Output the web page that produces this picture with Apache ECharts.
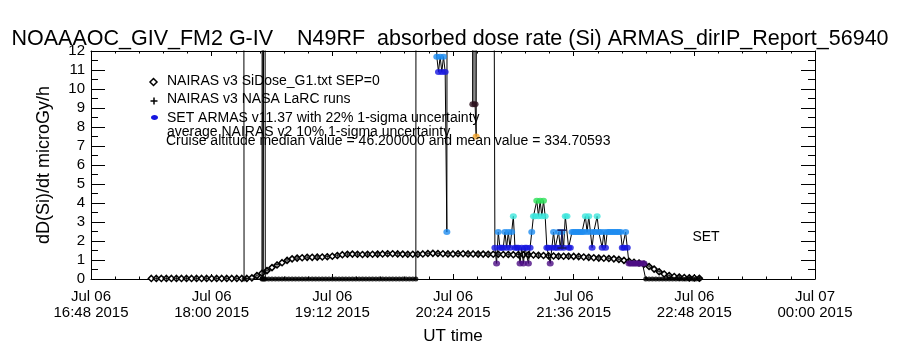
<!DOCTYPE html>
<html>
<head>
<meta charset="utf-8">
<script src="https://cdn.jsdelivr.net/npm/echarts@6/dist/echarts.min.js"></script>
<style>
html, body { margin: 0; background: #fff; }
#chart { width: 900px; height: 350px; }
</style>
</head>
<body>
<div id="chart"></div>
<script>
// NAIRAS v3 SiDose_G1.txt, one value every 3 min from 17:24 UT (microGy/h)
var nairasStart = '17:24';
var nairasStepMin = 3;
var nairasDose = [
  0.03, 0.03, 0.03, 0.03, 0.03, 0.03, 0.03, 0.03, 0.03, 0.03,
  0.03, 0.03, 0.03, 0.03, 0.03, 0.03, 0.03, 0.03, 0.03, 0.03,
  0.06, 0.18, 0.30, 0.44, 0.60, 0.74, 0.86, 0.98, 1.06, 1.10,
  1.12, 1.14, 1.14, 1.15, 1.16, 1.17, 1.20, 1.24, 1.28, 1.30,
  1.31, 1.30, 1.29, 1.30, 1.30, 1.31, 1.32, 1.33, 1.33, 1.32,
  1.31, 1.30, 1.30, 1.30, 1.32, 1.34, 1.35, 1.34, 1.33, 1.32,
  1.32, 1.33, 1.33, 1.32, 1.32, 1.31, 1.31, 1.30, 1.30, 1.30,
  1.29, 1.29, 1.28, 1.28, 1.28, 1.27, 1.26, 1.25, 1.24, 1.22,
  1.21, 1.20, 1.20, 1.20, 1.19, 1.18, 1.16, 1.14, 1.12, 1.10,
  1.09, 1.08, 1.06, 1.03, 0.98, 0.93, 0.88, 0.84, 0.78, 0.66,
  0.52, 0.38, 0.26, 0.18, 0.13, 0.10, 0.08, 0.06, 0.05, 0.04
];

// NAIRAS v3 NASA LaRC runs, one value every 6 min from 17:27 UT
var larcStart = '17:27';
var larcStepMin = 6;
var larcDose = [
  0.03, 0.03, 0.03, 0.03, 0.03, 0.03, 0.03, 0.03, 0.03, 0.03,
  0.20, 0.46, 0.76, 1.00, 1.10, 1.15, 1.16, 1.18, 1.25, 1.31,
  1.31, 1.31, 1.32, 1.34, 1.33, 1.31, 1.31, 1.35, 1.35, 1.33,
  1.34, 1.33, 1.32, 1.31, 1.31, 1.30, 1.29, 1.28, 1.26, 1.23,
  1.21, 1.21, 1.19, 1.15, 1.11, 1.09, 1.04, 0.94, 0.85, 0.68,
  0.40, 0.19, 0.11, 0.07, 0.05
];

// SET ARMAS v11.37 record [UT, dose]; values above 12 run off the top of the plot
var armas = [
  ['18:19:00', 40], ['18:19:20', 0], ['18:30:00', 0], ['18:30:20', 40], ['18:30:40', 0],
  ['18:31:20', 0], ['18:31:40', 40], ['18:32:00', 0],
  ['18:34', 0], ['18:36', 0], ['18:38', 0], ['18:40', 0], ['18:42', 0], ['18:44', 0],
  ['18:46', 0], ['18:48', 0], ['18:50', 0], ['18:52', 0], ['18:54', 0], ['18:56', 0],
  ['18:58', 0], ['19:00', 0], ['19:02', 0], ['19:04', 0], ['19:06', 0], ['19:08', 0],
  ['19:10', 0], ['19:12', 0], ['19:14', 0], ['19:16', 0], ['19:18', 0], ['19:20', 0],
  ['19:22', 0], ['19:24', 0], ['19:26', 0], ['19:28', 0], ['19:30', 0], ['19:32', 0],
  ['19:34', 0], ['19:36', 0], ['19:38', 0], ['19:40', 0], ['19:42', 0], ['19:44', 0],
  ['19:46', 0], ['19:48', 0], ['19:50', 0], ['19:52', 0], ['19:54', 0], ['19:56', 0],
  ['19:58', 0], ['20:00', 0], ['20:01:50', 0], ['20:02:00', 40], ['20:14:00', 40],
  ['20:14:20', 11.7], ['20:15:20', 10.9], ['20:16:20', 11.7], ['20:17:20', 10.9],
  ['20:18:20', 11.7], ['20:19:20', 10.9], ['20:20:20', 2.47], ['20:20:40', 40],
  ['20:35:30', 40], ['20:35:50', 9.2], ['20:36:40', 40], ['20:37:10', 9.2],
  ['20:37:50', 7.5], ['20:38:20', 40], ['20:47:40', 40],
  ['20:49', 1.65], ['20:50', 0.82], ['20:51', 2.47], ['20:52', 1.65], ['20:53', 1.65],
  ['20:54', 1.65], ['20:55', 2.47], ['20:56', 1.65], ['20:57', 2.47], ['20:58', 1.65],
  ['20:59', 2.47], ['21:00', 3.3], ['21:01', 1.65], ['21:02', 1.65], ['21:03', 1.65],
  ['21:04', 0.82], ['21:05', 1.65], ['21:06', 0.82], ['21:07', 1.65], ['21:08', 1.65],
  ['21:09', 0.82], ['21:10', 1.65], ['21:11', 2.47], ['21:12', 3.3], ['21:13', 3.3],
  ['21:14', 4.12], ['21:15', 3.3], ['21:16', 4.12], ['21:17', 3.3], ['21:18', 4.12],
  ['21:19', 3.3], ['21:20', 1.65], ['21:21', 1.65], ['21:22', 0.82], ['21:23', 1.65],
  ['21:24', 2.47], ['21:25', 1.65], ['21:26', 1.65], ['21:27', 2.47], ['21:28', 1.65],
  ['21:29', 2.47], ['21:30', 1.65], ['21:31', 3.3], ['21:32', 3.3], ['21:33', 1.65],
  ['21:34', 1.65], ['21:35', 2.47], ['21:36', 2.47], ['21:37', 2.47], ['21:38', 2.47],
  ['21:39', 2.47], ['21:40', 2.47], ['21:41', 2.47], ['21:42', 2.47], ['21:43', 3.3],
  ['21:44', 2.47], ['21:45', 3.3], ['21:46', 2.47], ['21:47', 1.65], ['21:48', 2.47],
  ['21:49', 2.47], ['21:50', 3.3], ['21:51', 2.47], ['21:52', 2.47], ['21:53', 1.65],
  ['21:54', 2.47], ['21:55', 1.65], ['21:56', 2.47], ['21:57', 2.47], ['21:58', 2.47],
  ['21:59', 2.47], ['22:00', 2.47], ['22:01', 2.47], ['22:02', 2.47], ['22:03', 2.47],
  ['22:04', 2.47], ['22:05', 1.65], ['22:06', 1.65], ['22:07', 2.47], ['22:08', 1.65],
  ['22:09', 0.82], ['22:10', 0.82], ['22:11', 0.82], ['22:12', 0.82], ['22:13', 0.82],
  ['22:14', 0.82], ['22:15', 0.82], ['22:16', 0.82], ['22:17', 0.82], ['22:18', 0.82],
  ['22:19', 0], ['22:21', 0], ['22:23', 0], ['22:25', 0], ['22:27', 0], ['22:29', 0],
  ['22:31', 0], ['22:33', 0], ['22:35', 0], ['22:37', 0], ['22:39', 0], ['22:41', 0],
  ['22:43', 0], ['22:45', 0], ['22:47', 0], ['22:49', 0], ['22:51', 0]
];

// average NAIRAS v2 with 10% 1-sigma uncertainty
var avgTime = ['21:29'];
var avgDose = [2.1];
var avgLow = [1.63];
var avgHigh = [2.57];

var months = ['Jan', 'Feb', 'Mar', 'Apr', 'May', 'Jun', 'Jul', 'Aug', 'Sep', 'Oct', 'Nov', 'Dec'];

function ut(hms) {
  var p = hms.split(':');
  return Date.UTC(2015, 6, 6, +p[0], +p[1], +(p[2] || 0));
}
function pad(n) { return (n < 10 ? '0' : '') + n; }

var xMin = ut('16:48');
var xMax = Date.UTC(2015, 6, 7, 0, 0, 0);
var step72 = 72 * 60 * 1000;

var nairasData = nairasDose.map(function (v, i) {
  return [ut(nairasStart) + i * nairasStepMin * 60000, v];
});
var larcData = larcDose.map(function (v, i) {
  return [ut(larcStart) + i * larcStepMin * 60000, v];
});
var armasData = armas.map(function (p) { return [ut(p[0]), p[1]]; });
var avgData = avgTime.map(function (t, i) {
  return [ut(t), avgDose[i], avgLow[i], avgHigh[i]];
});

var FONT = "'Liberation Sans', Arial, sans-serif";

var chart = echarts.init(document.getElementById('chart'), null, { renderer: 'canvas' });

function xAxisBase(pos) {
  return {
    type: 'value',
    position: pos,
    min: xMin,
    max: xMax,
    interval: step72,
    axisLine: { onZero: false, lineStyle: { color: '#000', width: 1 } },
    axisTick: { inside: true, length: 5, lineStyle: { color: '#000' } },
    minorTick: { show: true, splitNumber: 5, length: 2.5, lineStyle: { color: '#000' } },
    splitLine: { show: false }
  };
}
function yAxisBase(pos) {
  return {
    type: 'value',
    position: pos,
    min: 0,
    max: 12,
    interval: 1,
    axisLine: { show: true, onZero: false, lineStyle: { color: '#000', width: 1 } },
    axisTick: { show: true, inside: true, length: 14, lineStyle: { color: '#000' } },
    minorTick: { show: true, splitNumber: 2, length: 7, lineStyle: { color: '#000' } },
    splitLine: { show: false }
  };
}

var xBottom = xAxisBase('bottom');
xBottom.name = 'UT time';
xBottom.nameLocation = 'middle';
xBottom.nameGap = 49;
xBottom.nameTextStyle = { fontFamily: FONT, fontSize: 17, color: '#000' };
xBottom.axisLabel = {
  margin: 10,
  fontFamily: FONT,
  fontSize: 15,
  lineHeight: 16,
  color: '#000',
  showMinLabel: true,
  showMaxLabel: true,
  formatter: function (v) {
    var d = new Date(v);
    return months[d.getUTCMonth()] + ' ' + pad(d.getUTCDate()) + '\n' +
      pad(d.getUTCHours()) + ':' + pad(d.getUTCMinutes()) + ' ' + d.getUTCFullYear();
  }
};
var xTop = xAxisBase('top');
xTop.axisLabel = { show: false };

var yLeft = yAxisBase('left');
yLeft.name = 'dD(Si)/dt microGy/h';
yLeft.nameLocation = 'middle';
yLeft.nameGap = 38;
yLeft.nameTextStyle = { fontFamily: FONT, fontSize: 18, color: '#000' };
yLeft.axisLabel = {
  margin: 6,
  fontFamily: FONT,
  fontSize: 15,
  lineHeight: 14,
  color: '#000',
  showMinLabel: true,
  showMaxLabel: true
};
var yRight = yAxisBase('right');
yRight.axisLabel = { show: false };

var legendFont = { fontFamily: FONT, fontSize: 14, fill: '#000', verticalAlign: 'middle', align: 'left' };
function legendText(x, y, text) {
  return { type: 'text', x: x, y: y, style: Object.assign({ text: text }, legendFont), z: 100 };
}

var option = {
  animation: false,
  backgroundColor: '#fff',
  title: {
    text: 'NOAAAOC_GIV_FM2 G-IV    N49RF  absorbed dose rate (Si) ARMAS_dirIP_Report_56940',
    left: 'center',
    top: 28,
    padding: 0,
    textStyle: { fontFamily: FONT, fontSize: 21.5, fontWeight: 'normal', color: '#000' }
  },
  grid: { left: 91, right: 85, top: 51, bottom: 71 },
  xAxis: [xBottom, xTop],
  yAxis: [yLeft, yRight],
  visualMap: {
    type: 'piecewise',
    show: false,
    seriesIndex: 3,
    dimension: 1,
    pieces: [
      { lt: 0.4, color: '#000000' },
      { gte: 0.4, lt: 1.2, color: '#4c0c84' },
      { gte: 1.2, lt: 2.0, color: '#1616e0' },
      { gte: 2.0, lt: 2.9, color: '#1e8cf0' },
      { gte: 2.9, lt: 3.7, color: '#3ce6dc' },
      { gte: 3.7, lt: 5, color: '#2ee05a' },
      { gte: 5, lt: 8.5, color: '#f2a42a' },
      { gte: 8.5, lt: 10, color: '#2a0f1c' },
      { gte: 10, lt: 11.3, color: '#1616e0' },
      { gte: 11.3, color: '#1e8cf0' }
    ]
  },
  series: [
    {
      name: 'NAIRAS v3 SiDose_G1.txt SEP=0',
      type: 'line',
      data: nairasData,
      symbol: 'diamond',
      symbolSize: 6,
      showAllSymbol: true,
      lineStyle: { color: '#000', width: 1 },
      itemStyle: { color: '#fff', borderColor: '#000', borderWidth: 1.5 },
      z: 2
    },
    {
      name: 'NAIRAS v3 NASA LaRC runs',
      type: 'scatter',
      data: larcData,
      symbol: 'path://M0,5H10M5,0V10',
      symbolSize: 6,
      itemStyle: { color: 'transparent', borderColor: '#000', borderWidth: 1 },
      z: 2
    },
    {
      name: 'ARMAS line',
      type: 'line',
      data: armasData,
      showSymbol: false,
      clip: true,
      lineStyle: { color: '#000', width: 1 },
      z: 3
    },
    {
      name: 'SET ARMAS v11.37',
      type: 'scatter',
      data: armasData,
      clip: true,
      symbolSize: function (v) { return v[1] === 0 ? 5 : [7, 6]; },
      z: 4
    },
    {
      name: 'average NAIRAS v2',
      type: 'custom',
      data: avgData,
      z: 5,
      renderItem: function (params, api) {
        var lo = api.coord([api.value(0), api.value(2)]);
        var hi = api.coord([api.value(0), api.value(3)]);
        var st = { stroke: '#181860', lineWidth: 1.5 };
        return {
          type: 'group',
          children: [
            { type: 'line', shape: { x1: lo[0], y1: lo[1], x2: hi[0], y2: hi[1] }, style: st },
            { type: 'line', shape: { x1: hi[0] - 4.5, y1: hi[1], x2: hi[0] + 4.5, y2: hi[1] }, style: st },
            { type: 'line', shape: { x1: lo[0] - 4.5, y1: lo[1], x2: lo[0] + 4.5, y2: lo[1] }, style: st }
          ]
        };
      }
    }
  ],
  graphic: [
    { type: 'polygon', shape: { points: [[153.5, 78.5], [157, 82], [153.5, 85.5], [150, 82]] },
      style: { fill: '#fff', stroke: '#000', lineWidth: 1.5 }, z: 100 },
    legendText(167, 81, 'NAIRAS v3 SiDose_G1.txt SEP=0'),
    { type: 'line', shape: { x1: 150.5, y1: 101, x2: 157.5, y2: 101 }, style: { stroke: '#000', lineWidth: 1.5 }, z: 100 },
    { type: 'line', shape: { x1: 154, y1: 97.5, x2: 154, y2: 104.5 }, style: { stroke: '#000', lineWidth: 1.5 }, z: 100 },
    legendText(167, 99, 'NAIRAS v3 NASA LaRC runs'),
    { type: 'ellipse', shape: { cx: 154.5, cy: 117.5, rx: 3.5, ry: 2.5 }, style: { fill: '#1616e0' }, z: 100 },
    legendText(167, 118.5, 'SET ARMAS v11.37 with 22% 1-sigma uncertainty'),
    legendText(167, 132, 'average NAIRAS v2 10% 1-sigma uncertainty'),
    legendText(166, 141.5, 'Cruise altitude median value = 46.200000 and mean value = 334.70593'),
    { type: 'text', x: 706, y: 237.5, z: 100,
      style: { text: 'SET', fontFamily: FONT, fontSize: 14, fill: '#000', align: 'center', verticalAlign: 'middle' } }
  ]
};

chart.setOption(option);
</script>
</body>
</html>
